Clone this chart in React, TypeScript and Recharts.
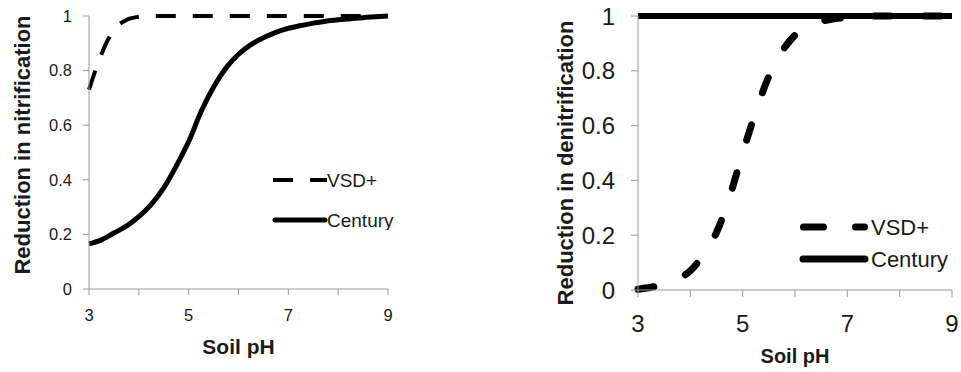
import { Label, Legend, Line, LineChart, XAxis, YAxis } from 'recharts';

// soil pH sample points (x values shared by all series)
const soilPH = [3, 3.25, 3.5, 3.75, 4, 4.25, 4.5, 4.75, 5, 5.25, 5.5, 5.75, 6, 6.25, 6.5, 6.75, 7, 7.25, 7.5, 7.75, 8, 8.25, 8.5, 8.75, 9];

// left panel: reduction in nitrification
const nitVSD = [0.73, 0.86, 0.95, 0.985, 0.997, 1, 1, 1, 1, 1, 1, 1, 1, 1, 1, 1, 1, 1, 1, 1, 1, 1, 1, 1, 1];
const nitCentury = [0.165, 0.18, 0.205, 0.23, 0.265, 0.31, 0.37, 0.45, 0.54, 0.65, 0.74, 0.81, 0.86, 0.895, 0.92, 0.94, 0.955, 0.965, 0.974, 0.981, 0.986, 0.99, 0.994, 0.997, 1];

// right panel: reduction in denitrification
const denitVSD = [0.003, 0.01, 0.02, 0.04, 0.07, 0.13, 0.21, 0.34, 0.5, 0.65, 0.78, 0.87, 0.93, 0.96, 0.98, 0.99, 0.995, 0.998, 1, 1, 1, 1, 1, 1, 1];
const denitCentury = [1, 1, 1, 1, 1, 1, 1, 1, 1, 1, 1, 1, 1, 1, 1, 1, 1, 1, 1, 1, 1, 1, 1, 1, 1];

const xTicks = [3, 4, 5, 6, 7, 8, 9];
const yTicks = [0, 0.2, 0.4, 0.6, 0.8, 1];
const seriesNames = ['VSD+', 'Century'];

const nitData = soilPH.map((ph, i) => ({ ph, vsd: nitVSD[i], century: nitCentury[i] }));
const denitData = soilPH.map((ph, i) => ({ ph, vsd: denitVSD[i], century: denitCentury[i] }));

const FONT = '"Liberation Sans", Arial, sans-serif';
const AXIS = '#9a9a9a';
const INK = '#1a1a1a';

// only odd pH values get a label, every integer gets a tick mark
const oddOnly = (v: number) => (v % 2 === 1 ? String(v) : '');

function LeftLegend() {
  return (
    <svg width={130} height={70} style={{ display: 'block' }}>
      <line x1={5} y1={20} x2={59} y2={20} stroke="#000" strokeWidth={4} strokeDasharray="20 17" />
      <text x={59} y={20} dominantBaseline="central" fontSize={19} fontFamily={FONT} fill={INK}>{seriesNames[0]}</text>
      <line x1={7} y1={60} x2={57} y2={60} stroke="#000" strokeWidth={5} strokeLinecap="round" />
      <text x={59} y={60} dominantBaseline="central" fontSize={19} fontFamily={FONT} fill={INK}>{seriesNames[1]}</text>
    </svg>
  );
}

function RightLegend() {
  return (
    <svg width={170} height={75} style={{ display: 'block' }}>
      <line x1={13.5} y1={22} x2={74.5} y2={22} stroke="#000" strokeWidth={7} strokeLinecap="round" strokeDasharray="20 32" />
      <text x={81} y={22} dominantBaseline="central" fontSize={22} fontFamily={FONT} fill={INK}>{seriesNames[0]}</text>
      <line x1={13} y1={54} x2={75} y2={54} stroke="#000" strokeWidth={7} strokeLinecap="round" />
      <text x={81} y={54} dominantBaseline="central" fontSize={22} fontFamily={FONT} fill={INK}>{seriesNames[1]}</text>
    </svg>
  );
}

export default function App() {
  return (
    <div style={{ position: 'absolute', left: 0, top: 0, width: 961, height: 372, background: '#fff', fontFamily: FONT }}>
      <div style={{ position: 'absolute', left: 0, top: 0 }}>
        <LineChart width={400} height={372} data={nitData} margin={{ top: 16, right: 12, bottom: 0, left: 0 }}>
          <XAxis
            dataKey="ph"
            type="number"
            domain={[3, 9]}
            ticks={xTicks}
            tickFormatter={oddOnly}
            height={83}
            stroke={AXIS}
            tickSize={6}
            tickMargin={14}
            tick={{ fill: INK, fontSize: 16.5, fontFamily: FONT }}
          >
            <Label value="Soil pH" position="insideBottom" offset={18} fontSize={21} fontWeight="bold" fill={INK} fontFamily={FONT} />
          </XAxis>
          <YAxis
            type="number"
            domain={[0, 1]}
            ticks={yTicks}
            width={89}
            stroke={AXIS}
            tickSize={6}
            tickMargin={11}
            tick={{ fill: INK, fontSize: 16.5, fontFamily: FONT }}
          >
            <Label
              content={() => (
                <text x={22} y={145} transform="rotate(-90 22 145)" textAnchor="middle" dominantBaseline="central" fontSize={22} fontWeight="bold" fill={INK} fontFamily={FONT}>
                  Reduction in nitrification
                </text>
              )}
            />
          </YAxis>
          <Legend layout="vertical" align="center" verticalAlign="middle" content={<LeftLegend />} wrapperStyle={{ left: 268, top: 160, width: 130, height: 70 }} />
          <Line dataKey="vsd" name={seriesNames[0]} type="monotone" stroke="#000" strokeWidth={4} strokeDasharray="20 17" dot={false} isAnimationActive={false} />
          <Line dataKey="century" name={seriesNames[1]} type="monotone" stroke="#000" strokeWidth={5} dot={false} isAnimationActive={false} />
        </LineChart>
      </div>
      <div style={{ position: 'absolute', left: 460, top: 0 }}>
        <LineChart width={501} height={372} data={denitData} margin={{ top: 16, right: 9, bottom: 0, left: 0 }}>
          <XAxis
            dataKey="ph"
            type="number"
            domain={[3, 9]}
            ticks={xTicks}
            tickFormatter={oddOnly}
            height={82}
            stroke={AXIS}
            tickSize={7}
            tickMargin={18}
            tick={{ fill: INK, fontSize: 24, fontFamily: FONT }}
          >
            <Label value="Soil pH" position="insideBottom" offset={9} fontSize={20} fontWeight="bold" fill={INK} fontFamily={FONT} />
          </XAxis>
          <YAxis
            type="number"
            domain={[0, 1]}
            ticks={yTicks}
            width={178}
            stroke={AXIS}
            tickSize={7}
            tickMargin={16}
            tick={{ fill: INK, fontSize: 24, fontFamily: FONT }}
          >
            <Label
              content={() => (
                <text x={105} y={163} transform="rotate(-90 105 163)" textAnchor="middle" dominantBaseline="central" fontSize={22} fontWeight="bold" fill={INK} fontFamily={FONT}>
                  Reduction in denitrification
                </text>
              )}
            />
          </YAxis>
          <Legend layout="vertical" align="center" verticalAlign="middle" content={<RightLegend />} wrapperStyle={{ left: 330, top: 205, width: 170, height: 75 }} />
          <Line dataKey="vsd" name={seriesNames[0]} type="monotone" stroke="#000" strokeWidth={7} strokeLinecap="round" strokeDasharray="16 34" dot={false} isAnimationActive={false} />
          <Line dataKey="century" name={seriesNames[1]} type="monotone" stroke="#000" strokeWidth={6} dot={false} isAnimationActive={false} />
        </LineChart>
      </div>
    </div>
  );
}
